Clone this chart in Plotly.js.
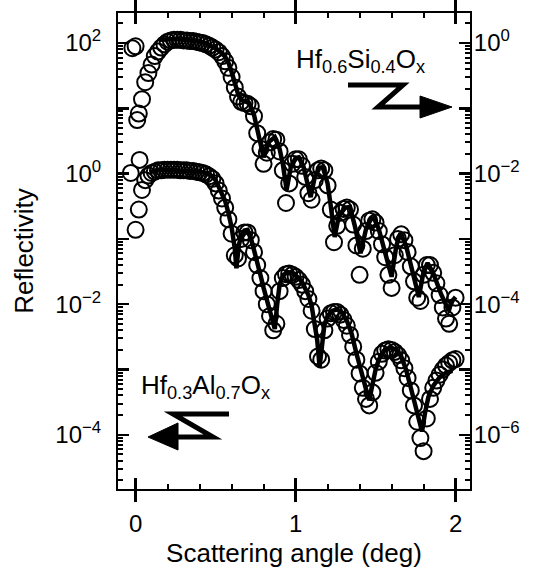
<!DOCTYPE html>
<html><head><meta charset="utf-8">
<script src="https://cdn.plot.ly/plotly-3.0.1.min.js"></script>
<style>html,body{margin:0;padding:0;background:#fff}#chart{width:537px;height:568px}</style>
</head><body><div id="chart"></div>
<script>
// Scattering angle grid (deg) shared by both measured series
const angleGrid = [0.00,0.02,0.04,0.06,0.08,0.10,0.12,0.14,0.16,0.18,0.20,0.22,0.24,0.26,0.28,0.30,0.32,0.34,0.36,0.38,0.40,0.42,0.44,0.46,0.48,0.50,0.52,0.54,0.56,0.58,0.60,0.62,0.64,0.66,0.68,0.70,0.72,0.74,0.76,0.78,0.80,0.82,0.84,0.86,0.88,0.90,0.92,0.94,0.96,0.98,1.00,1.02,1.04,1.06,1.08,1.10,1.12,1.14,1.16,1.18,1.20,1.22,1.24,1.26,1.28,1.30,1.32,1.34,1.36,1.38,1.40,1.42,1.44,1.46,1.48,1.50,1.52,1.54,1.56,1.58,1.60,1.62,1.64,1.66,1.68,1.70,1.72,1.74,1.76,1.78,1.80,1.82,1.84,1.86,1.88,1.90,1.92,1.94,1.96,1.98,2.00];

// Hf0.3Al0.7Ox (left axis) measured reflectivity, log10 values
const alStartAngle = [-0.03, 0.025];
const alStartLog10 = [0.01, 0.21];
const alMeasLog10 = [-0.86,-0.55,-0.25,-0.10,-0.03,0.01,0.03,0.05,0.05,0.06,0.06,0.06,0.06,0.06,0.05,0.05,0.05,0.04,0.04,0.03,0.02,0.01,-0.01,-0.04,-0.08,-0.15,-0.26,-0.38,-0.52,-0.70,-0.92,-1.25,-1.30,-1.00,-0.90,-0.90,-1.02,-1.20,-1.40,-1.60,-1.80,-2.00,-2.18,-2.40,-2.30,-1.80,-1.60,-1.54,-1.53,-1.55,-1.58,-1.63,-1.70,-1.80,-1.92,-2.10,-2.38,-2.80,-2.85,-2.40,-2.22,-2.14,-2.12,-2.12,-2.16,-2.24,-2.33,-2.47,-2.65,-2.85,-3.06,-3.28,-3.45,-3.55,-3.35,-3.05,-2.88,-2.76,-2.71,-2.69,-2.70,-2.73,-2.78,-2.86,-2.98,-3.13,-3.32,-3.55,-3.80,-4.05,-4.25,-3.75,-3.45,-3.28,-3.17,-3.08,-3.00,-2.94,-2.90,-2.86,-2.84];
// Hf0.3Al0.7Ox fit
const alFitAngle = [0.09,0.12,0.20,0.30,0.40,0.44,0.48,0.50,0.52,0.54,0.56,0.58,0.60,0.62,0.63,0.645,0.66,0.68,0.70,0.72,0.74,0.76,0.78,0.80,0.82,0.84,0.86,0.87,0.885,0.90,0.92,0.95,0.98,1.00,1.02,1.04,1.06,1.08,1.10,1.12,1.135,1.15,1.165,1.18,1.20,1.23,1.26,1.29,1.32,1.35,1.38,1.41,1.44,1.46,1.48,1.50,1.52,1.55,1.59,1.63,1.66,1.69,1.72,1.75,1.77,1.79,1.81,1.83,1.86,1.90,1.94,1.98];
const alFitLog10 = [0.02,0.05,0.06,0.05,0.03,0.01,-0.04,-0.10,-0.20,-0.30,-0.42,-0.60,-0.82,-1.15,-1.45,-1.10,-0.95,-0.87,-0.86,-0.98,-1.15,-1.35,-1.55,-1.75,-1.94,-2.12,-2.28,-2.38,-2.00,-1.70,-1.56,-1.51,-1.52,-1.55,-1.60,-1.66,-1.75,-1.86,-2.02,-2.28,-2.55,-2.96,-2.60,-2.32,-2.18,-2.10,-2.08,-2.13,-2.25,-2.45,-2.75,-3.05,-3.30,-3.47,-3.20,-3.00,-2.85,-2.72,-2.66,-2.70,-2.80,-3.00,-3.28,-3.58,-3.78,-3.95,-3.65,-3.42,-3.25,-3.12,-3.05,-3.02];

// Hf0.6Si0.4Ox (right axis) measured reflectivity, log10 values
const siStartAngle = [-0.02, 0.01];
const siStartLog10 = [-0.08, -1.18];
const siMeasLog10 = [-0.05,-1.08,-0.86,-0.60,-0.46,-0.33,-0.20,-0.13,-0.07,-0.02,0.02,0.04,0.05,0.05,0.05,0.04,0.04,0.03,0.03,0.02,0.01,0.00,-0.02,-0.04,-0.07,-0.10,-0.14,-0.20,-0.28,-0.38,-0.52,-0.68,-0.82,-0.90,-0.92,-0.93,-0.97,-1.12,-1.38,-1.62,-1.85,-1.68,-1.52,-1.47,-1.48,-1.66,-1.95,-2.45,-2.15,-1.85,-1.78,-1.78,-1.88,-2.05,-2.30,-2.40,-2.10,-1.95,-1.92,-1.95,-2.18,-2.55,-3.05,-2.80,-2.60,-2.54,-2.52,-2.55,-2.78,-3.10,-3.55,-3.15,-2.88,-2.72,-2.70,-2.75,-2.88,-3.08,-3.28,-3.55,-3.75,-3.25,-3.00,-2.93,-3.02,-3.20,-3.42,-3.65,-3.90,-3.95,-3.55,-3.40,-3.40,-3.52,-3.68,-3.86,-4.05,-4.22,-4.30,-4.05,-3.90];
// Hf0.6Si0.4Ox fit
const siFitAngle = [0.15,0.20,0.25,0.30,0.35,0.40,0.44,0.48,0.52,0.56,0.58,0.60,0.62,0.64,0.66,0.69,0.71,0.74,0.77,0.80,0.83,0.87,0.90,0.92,0.944,0.97,1.00,1.02,1.05,1.07,1.094,1.12,1.15,1.17,1.20,1.22,1.244,1.27,1.31,1.34,1.37,1.406,1.44,1.47,1.49,1.52,1.56,1.60,1.63,1.656,1.69,1.73,1.77,1.80,1.825,1.86,1.91,1.956,1.98,2.00];
const siFitLog10 = [0.05,0.06,0.06,0.05,0.04,0.02,0.00,-0.05,-0.11,-0.21,-0.30,-0.44,-0.62,-0.78,-0.87,-0.90,-0.92,-1.10,-1.45,-1.75,-1.52,-1.44,-1.62,-1.85,-2.25,-1.90,-1.76,-1.75,-1.90,-2.10,-2.36,-2.05,-1.91,-1.90,-2.15,-2.50,-2.97,-2.65,-2.52,-2.51,-2.80,-3.22,-2.85,-2.70,-2.68,-2.85,-3.20,-3.58,-3.10,-2.91,-3.10,-3.50,-3.89,-3.50,-3.37,-3.52,-3.85,-4.09,-3.95,-3.89];

// Tick labels
const xTickVals = [0, 1, 2];
const xTickText = ['0', '1', '2'];
const xMinorVals = [0.2,0.4,0.6,0.8,1.2,1.4,1.6,1.8];
const leftDecades = [1e-5,1e-4,1e-3,1e-2,1e-1,1,10,100];
const leftTickText = ['', '10<sup>\u22124</sup>', '', '10<sup>\u22122</sup>', '', '10<sup>0</sup>', '', '10<sup>2</sup>'];
const rightDecades = [1e-7,1e-6,1e-5,1e-4,1e-3,1e-2,1e-1,1];
const rightTickText = ['', '10<sup>\u22126</sup>', '', '10<sup>\u22124</sup>', '', '10<sup>\u22122</sup>', '', '10<sup>0</sup>'];

const toVal = a => a.map(v => Math.pow(10, v));
function minorLog(decs){ const out=[]; decs.forEach(d=>{ for(let m=2;m<=9;m++) out.push(d*m); }); return out; }

const markerStyle = {symbol:'circle-open', size:16, color:'#000', line:{width:2, color:'#000'}};
const noHover = 'skip';
const traces = [
  {x: alStartAngle.concat(angleGrid), y: toVal(alStartLog10.concat(alMeasLog10)), type:'scatter', mode:'markers', marker:markerStyle, xaxis:'x', yaxis:'y'},
  {x: siStartAngle.concat(angleGrid), y: toVal(siStartLog10.concat(siMeasLog10)), type:'scatter', mode:'markers', marker:markerStyle, xaxis:'x', yaxis:'y2'},
  {x: alFitAngle, y: toVal(alFitLog10), type:'scatter', mode:'lines', line:{color:'#000', width:4.5}, xaxis:'x', yaxis:'y'},
  {x: siFitAngle, y: toVal(siFitLog10), type:'scatter', mode:'lines', line:{color:'#000', width:4.5}, xaxis:'x', yaxis:'y2'},
  // empty helper traces so the minor-tick axes get drawn
  {x: [], y: [], type:'scatter', mode:'markers', xaxis:'x2', yaxis:'y', hoverinfo:noHover},
  {x: [], y: [], type:'scatter', mode:'markers', xaxis:'x3', yaxis:'y', hoverinfo:noHover},
  {x: [], y: [], type:'scatter', mode:'markers', xaxis:'x', yaxis:'y3', hoverinfo:noHover},
  {x: [], y: [], type:'scatter', mode:'markers', xaxis:'x', yaxis:'y4', hoverinfo:noHover}
];

const fontFam = 'Liberation Sans, Arial, Helvetica, sans-serif';
const xRange = [-0.11, 2.09];
const leftRange = [-4.83, 2.46];
const rightRange = [-6.83, 0.46];
const tickOnly = {showgrid:false, zeroline:false, showline:false, showticklabels:false, ticks:'inside', tickcolor:'#000', tickmode:'array', ticklen:5, tickwidth:2};
const layout = {
  width:537, height:568,
  margin:{l:118, r:67, t:13, b:79},
  paper_bgcolor:'#fff', plot_bgcolor:'rgba(0,0,0,0)', showlegend:false,
  font:{family:fontFam, color:'#000', size:24},
  xaxis:{
    range:xRange, tickmode:'array', tickvals:xTickVals, ticktext:xTickText,
    ticks:'inside', ticklen:11, tickwidth:2.5, tickcolor:'#000',
    showline:true, linewidth:2, linecolor:'#000', mirror:'allticks',
    showgrid:false, zeroline:false, tickfont:{size:24, family:fontFam, color:'#000'},
    ticklabelstandoff:12,
    title:{text:'Scattering angle (deg)', font:{size:26, family:fontFam, color:'#000'}, standoff:8}
  },
  xaxis2:Object.assign({}, tickOnly, {overlaying:'x', anchor:'y', side:'bottom', range:xRange, tickvals:xMinorVals}),
  xaxis3:Object.assign({}, tickOnly, {overlaying:'x', anchor:'y', side:'top', range:xRange, tickvals:xMinorVals}),
  yaxis:{
    type:'log', range:leftRange, tickmode:'array', tickvals:leftDecades, ticktext:leftTickText,
    ticks:'inside', ticklen:11, tickwidth:2.5, tickcolor:'#000',
    showline:true, linewidth:2, linecolor:'#000', showgrid:false, zeroline:false,
    tickfont:{size:24, family:fontFam, color:'#000'}, ticklabelstandoff:10,
    title:{text:'Reflectivity', font:{size:26, family:fontFam, color:'#000'}, standoff:14}
  },
  yaxis2:{
    type:'log', overlaying:'y', anchor:'x', side:'right', range:rightRange, tickmode:'array', tickvals:rightDecades, ticktext:rightTickText,
    ticks:'inside', ticklen:11, tickwidth:2.5, tickcolor:'#000',
    showline:true, linewidth:2, linecolor:'#000', showgrid:false, zeroline:false,
    tickfont:{size:24, family:fontFam, color:'#000'}, ticklabelstandoff:-3
  },
  yaxis3:Object.assign({}, tickOnly, {type:'log', overlaying:'y', anchor:'x', side:'left', range:leftRange, tickvals:minorLog(leftDecades)}),
  yaxis4:Object.assign({}, tickOnly, {type:'log', overlaying:'y', anchor:'x', side:'right', range:rightRange, tickvals:minorLog(rightDecades)}),
  annotations:[
    {xref:'paper', yref:'paper', x:0.50, y:0.90, xanchor:'left', yanchor:'middle', showarrow:false,
     text:'Hf<sub>0.6</sub>Si<sub>0.4</sub>O<sub>x</sub>', font:{size:26, family:fontFam, color:'#000'}},
    {xref:'paper', yref:'paper', x:0.06, y:0.215, xanchor:'left', yanchor:'middle', showarrow:false,
     text:'Hf<sub>0.3</sub>Al<sub>0.7</sub>O<sub>x</sub>', font:{size:26, family:fontFam, color:'#000'}}
  ],
  shapes:[
    {type:'path', xref:'paper', yref:'paper', path:'M 0.6534 0.8487 L 0.8097 0.8487 L 0.7386 0.8025 L 0.8636 0.8025', line:{color:'#000', width:5}},
    {type:'path', xref:'paper', yref:'paper', path:'M 0.8580 0.8256 L 0.9489 0.8025 L 0.8580 0.7794 Z', fillcolor:'#000', line:{color:'#000', width:1}},
    {type:'path', xref:'paper', yref:'paper', path:'M 0.3153 0.1576 L 0.1563 0.1576 L 0.2699 0.1092 L 0.1705 0.1092', line:{color:'#000', width:5}},
    {type:'path', xref:'paper', yref:'paper', path:'M 0.1705 0.1387 L 0.0852 0.1092 L 0.1705 0.0819 Z', fillcolor:'#000', line:{color:'#000', width:1}}
  ]
};
Plotly.newPlot('chart', traces, layout, {displayModeBar:false, staticPlot:true});
</script></body></html>
